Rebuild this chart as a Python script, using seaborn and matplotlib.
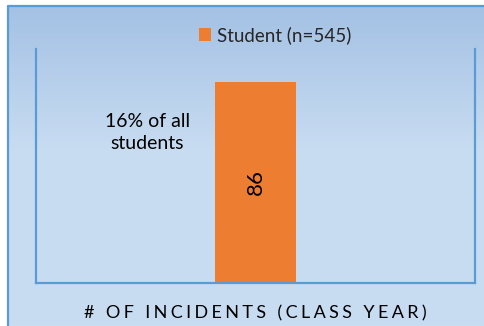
import numpy as np
import pandas as pd
import seaborn as sns
import matplotlib.pyplot as plt
from matplotlib.colors import LinearSegmentedColormap

# Data
categories = ["# OF INCIDENTS (CLASS YEAR)"]
incidents = [86]
series_label = "Student (n=545)"
note_text = "16% of all\nstudents"

sns.set_theme(style="white")
plt.rcParams["font.family"] = ["Lato", "DejaVu Sans"]

W, H = 484, 326
fig = plt.figure(figsize=(W / 100, H / 100), dpi=100)
fig.patch.set_facecolor("white")

# Chart-area background: vertical gradient with a blue frame
bg = fig.add_axes([0, 0, 1, 1], zorder=0)
bg.set_xlim(0, W)
bg.set_ylim(H, 0)
bg.axis("off")
grad_cmap = LinearSegmentedColormap.from_list(
    "bg", [(0.0, "#A4C1E4"), (0.45, "#C8DCF1"), (1.0, "#C9DDF1")])
grad = np.linspace(0, 1, 256).reshape(-1, 1)
bg.imshow(grad, cmap=grad_cmap, aspect="auto", extent=[7, W, H, 5],
          interpolation="bilinear")
bg.plot([7.5, 7.5, W], [H, 5.5, 5.5], color="#5B9BD5", lw=1.6,
        solid_capstyle="butt")

# Plot area
ax = fig.add_axes([36 / W, (H - 283) / H, (475 - 36) / W, (283 - 49) / H],
                  zorder=2)
ax.patch.set_alpha(0)
df = pd.DataFrame({"category": categories, "incidents": incidents})
sns.barplot(data=df, x="category", y="incidents", color="#ED7D31",
            width=0.184, saturation=1, label=series_label, linewidth=0,
            edgecolor="none", ax=ax)
ax.set_xlim(-0.5, 0.5)
ax.set_ylim(0, 100)
ax.set_yticks([])
ax.set_xticks([])
ax.set_ylabel("")
for side in ("left", "right", "bottom"):
    ax.spines[side].set_visible(True)
    ax.spines[side].set_color("#5B9BD5")
    ax.spines[side].set_linewidth(1.6)
ax.spines["top"].set_visible(False)

# Value label inside the bar
for i, v in enumerate(incidents):
    ax.text(i, v / 2, f"{v}", rotation=90, ha="center", va="center",
            fontsize=16, color="black")

# Annotation next to the bar
ax.text(0.254, 0.643, note_text, transform=ax.transAxes, ha="center",
        va="center", fontsize=14, color="black", linespacing=1.4)

# Spaced axis title
spaced = "\u2009\u200a".join(categories[0])
ax.set_xlabel(spaced, fontsize=13, color="black", labelpad=16)

# Legend above the plot area
ax.legend(loc="center", bbox_to_anchor=(275 / W, (H - 35) / H),
          bbox_transform=fig.transFigure, frameon=False, fontsize=13.5,
          handlelength=0.65, handleheight=0.65, handletextpad=0.3,
          borderpad=0)

fig.savefig("out.png", dpi=100)
